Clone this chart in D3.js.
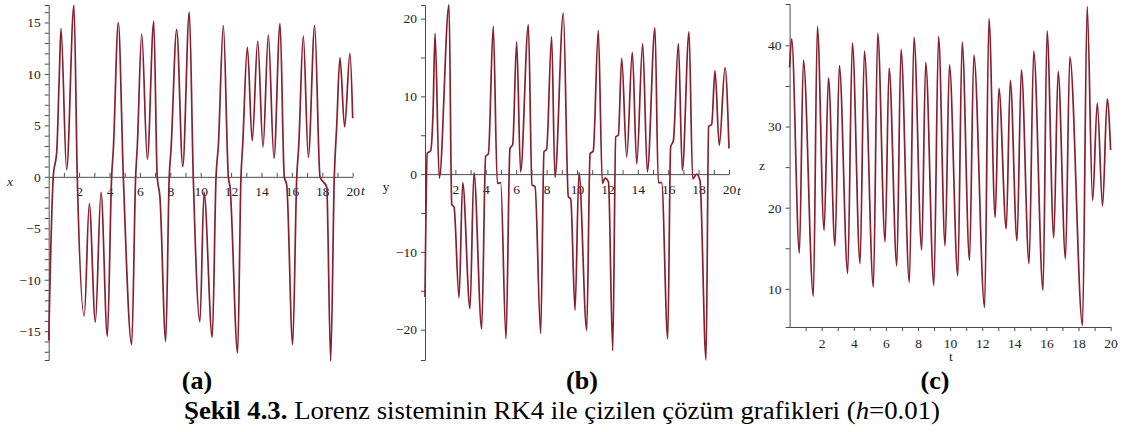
<!DOCTYPE html>
<html lang="tr">
<head>
<meta charset="UTF-8">
<title>Şekil 4.3 Lorenz RK4</title>
<script src="https://d3js.org/d3.v7.min.js"></script>
<style>
  body { margin: 0; background: #fff; }
  svg text { font-family: "Liberation Serif", "DejaVu Serif", "Times New Roman", Times, serif; }
  .axis path, .axis line { stroke: #4a4a4a; stroke-width: 1; }
  .axis text { font-size: 13.5px; fill: #222; }
</style>
</head>
<body>
<svg id="chart"></svg>
<script>
// (a) x(t) - extrema and shoulders
const tA = [0, 0.30, 0.53, 0.70, 0.81, 1.18, 1.66, 1.88, 2.34, 2.67, 3.07, 3.44, 3.86, 4.14, 4.25, 4.58,
  4.91, 5.46, 5.72, 5.83, 6.12, 6.49, 6.91, 7.14, 7.32, 7.70, 7.93, 8.05, 8.42, 8.82, 9.25, 9.51,
  9.95, 10.22, 10.76, 11.01, 11.16, 11.49, 11.82, 11.93, 12.43, 12.65, 12.76, 13.07, 13.39, 13.75,
  14.10, 14.45, 14.82, 15.22, 15.50, 15.66, 16.05, 16.32, 16.45, 16.75, 17.08, 17.50, 17.85, 18.29,
  18.55, 18.79, 18.95, 19.16, 19.47, 19.82, 20];
const xA = [-15.9, 0, 2.5, 10, 14.4, 0.7, 16.7, 0, -13.5, -2.6, -14.1, -1.5, -15.5, 0, 2.6, 15,
  0, -16.3, 0, 3, 13.9, 1.7, 15.1, 0, -2, -16, 0, 2.7, 14.3, 1, 16, 0,
  -14.1, -1.5, -15.6, 0, 3, 14.7, 0, -1, -17.1, 0, 3, 12.6, 3.5, 13.2,
  2.9, 13.8, 1.8, 14.9, 0, -0.8, -16.3, 0, 3, 13.7, 1.9, 14.7, 0, -1,
  -17.9, 0, 5, 11.6, 4.85, 12, 5.7];

// (b) y(t)
const tB = [0, 0.15, 0.37, 0.53, 0.66, 0.94, 1.58, 1.76, 1.91, 2.24, 2.48, 2.96, 3.22, 3.73, 3.99, 4.17,
  4.49, 4.76, 4.98, 5.33, 5.59, 5.77, 6.03, 6.29, 6.80, 7.04, 7.24, 7.61, 7.83, 8.00, 8.33, 8.55,
  9.10, 9.43, 9.59, 9.87, 10.13, 10.64, 10.86, 11.07, 11.40, 11.67, 11.84, 12.07, 12.35, 12.55, 12.72,
  12.94, 13.27, 13.64, 13.93, 14.32, 14.63, 15.13, 15.35, 15.57, 15.97, 16.16, 16.34, 16.67, 16.93,
  17.37, 17.61, 17.87, 18.09, 18.49, 18.66, 18.86, 19.08, 19.36, 19.74, 20];
const yB = [-15.8, 2.7, 3, 8, 18.1, -0.5, 21.8, -3.9, -4.2, -15.9, -1.1, -17.3, 0.2, -19.9, 2.3, 2.6,
  19, -1.2, -1.1, -21.2, 3.3, 3.8, 17, 0.3, 19.2, -1.4, -1.6, -20.5, 2.9, 3.2, 17.7, -0.4,
  20.7, -2.9, -3.2, -17.5, 0.2, -20.1, 2.6, 3, 18.5, -1.2, -0.5, -1, -22.7, 4.8, 5,
  14.9, 2.2, 15.7, 1.3, 16.8, 0.3, 18.8, -1.1, -1.1, -21.2, 3.5, 4.3, 16.8, 0.5,
  18.3, -0.6, 0, -0.8, -23.9, 6.1, 6.4, 13.3, 3.7, 13.7, 3.3];

// (c) z(t)
const tC = [0, 0.13, 0.61, 0.86, 1.48, 1.73, 2.15, 2.42, 2.83, 3.10, 3.62, 3.91, 4.39, 4.66, 5.22, 5.49,
  5.95, 6.20, 6.68, 6.94, 7.46, 7.75, 8.23, 8.48, 8.99, 9.28, 9.69, 9.96, 10.48, 10.75, 11.21, 11.48,
  12.15, 12.42, 12.81, 13.04, 13.50, 13.75, 14.17, 14.44, 14.92, 15.21, 15.79, 16.04, 16.46, 16.73,
  17.19, 17.46, 18.25, 18.54, 18.88, 19.17, 19.50, 19.79, 20];
const zC = [37.3, 40.8, 14.4, 38.2, 9.1, 42.3, 17.2, 36, 15.3, 37.5, 11.9, 40.3, 13.1, 39.3, 10.2, 41.5,
  15.8, 37.2, 12.8, 39.5, 10.8, 41, 14.8, 37.9, 10.4, 41.1, 15.3, 37.6, 11.6, 40.4, 13.5, 38.8,
  7.7, 43.3, 18.8, 34.7, 17.4, 35.7, 15.9, 37, 13.1, 39.3, 9.8, 41.8, 16.3, 36.8,
  13.7, 38.6, 5.5, 44.8, 20.9, 32.9, 20.2, 33.4, 27.1];

const captions = ["(a)", "(b)", "(c)"];

const width = 1123, height = 432;
const lineColor = "#86202f";
const serif = '"Liberation Serif", "DejaVu Serif", "Times New Roman", Times, serif';

const svg = d3.select("#chart")
    .attr("width", width)
    .attr("height", height);

const panels = [
  { t: tA, v: xA, xr: [48.7, 352.7], ydom: [-17.8, 16.7], yr: [360, 5], yTicks: d3.range(-17, 17, 1), yStep: 5,
    axisAtZero: true, ylab: "x", ylabPos: [10, 183], yItalic: true, tlabPos: [363, 192], tItalic: true },
  { t: tB, v: yB, xr: [425, 729], ydom: [-23.9, 21.75], yr: [360, 5], yTicks: d3.range(-20, 21, 5), yStep: 10,
    axisAtZero: true, ylab: "y", ylabPos: [386, 188], yItalic: false, tlabPos: [739, 192], tItalic: true },
  { t: tC, v: zC, xr: [789.6, 1110.6], ydom: [5.3, 45.1], yr: [327, 4], yTicks: d3.range(10, 45, 5), yStep: 10,
    axisAtZero: false, ylab: "z", ylabPos: [762, 167], yItalic: false, tlabPos: [951, 358], tItalic: false }
];

panels.forEach(p => {
  const x = d3.scaleLinear().domain([0, 20]).range(p.xr);
  const y = d3.scaleLinear().domain(p.ydom).range(p.yr);

  const yAxis = d3.axisLeft(y)
      .tickValues(p.yTicks)
      .tickSize(4)
      .tickPadding(4)
      .tickFormat(d => d % p.yStep === 0 ? d3.format("")(d) : "");
  svg.append("g")
      .attr("class", "axis")
      .attr("font-family", serif)
      .attr("transform", `translate(${p.xr[0]},0)`)
      .call(yAxis);

  const xPos = p.axisAtZero ? y(0) : p.yr[0];
  const xAxis = d3.axisBottom(x)
      .tickValues(d3.range(1, 21))
      .tickSizeInner(p.axisAtZero ? -4 : 4)
      .tickSizeOuter(0)
      .tickPadding(p.axisAtZero ? 10 : 7)
      .tickFormat(d => d % 2 === 0 ? d : "");
  svg.append("g")
      .attr("class", "axis")
      .attr("font-family", serif)
      .attr("transform", `translate(0,${xPos})`)
      .call(xAxis);

  const line = d3.line()
      .x((d, i) => x(p.t[i]))
      .y(d => y(d))
      .curve(d3.curveMonotoneX);

  svg.append("path")
      .datum(p.v)
      .attr("fill", "none")
      .attr("stroke", lineColor)
      .attr("stroke-width", 1.7)
      .attr("stroke-linejoin", "round")
      .attr("d", line);

  svg.append("text")
      .attr("x", p.ylabPos[0]).attr("y", p.ylabPos[1])
      .attr("text-anchor", "middle").attr("dominant-baseline", "middle")
      .attr("font-family", serif)
      .style("font-size", "13.5px").style("font-style", p.yItalic ? "italic" : "normal")
      .attr("fill", "#222")
      .text(p.ylab);
  svg.append("text")
      .attr("x", p.tlabPos[0]).attr("y", p.tlabPos[1])
      .attr("text-anchor", "middle").attr("dominant-baseline", "middle")
      .attr("font-family", serif)
      .style("font-size", "13.5px").style("font-style", p.tItalic ? "italic" : "normal")
      .attr("fill", "#222")
      .text("t");
});

// sub-figure letters and caption
const capX = [197, 582, 935];
svg.selectAll(".sub")
   .data(captions)
   .enter()
   .append("text")
   .attr("class", "sub")
   .attr("x", (d, i) => capX[i])
   .attr("y", 389)
   .attr("text-anchor", "middle")
   .attr("font-family", serif)
   .style("font-size", "26px")
   .style("font-weight", "bold")
   .text(d => d);

const cap = svg.append("text")
   .attr("x", 184)
   .attr("y", 419)
   .attr("font-family", serif)
   .attr("textLength", 756)
   .attr("lengthAdjust", "spacingAndGlyphs")
   .style("font-size", "26px");
cap.append("tspan").style("font-weight", "bold").text("Şekil 4.3.");
cap.append("tspan").text(" Lorenz sisteminin RK4 ile çizilen çözüm grafikleri (");
cap.append("tspan").style("font-style", "italic").text("h");
cap.append("tspan").text("=0.01)");
</script>
</body>
</html>
